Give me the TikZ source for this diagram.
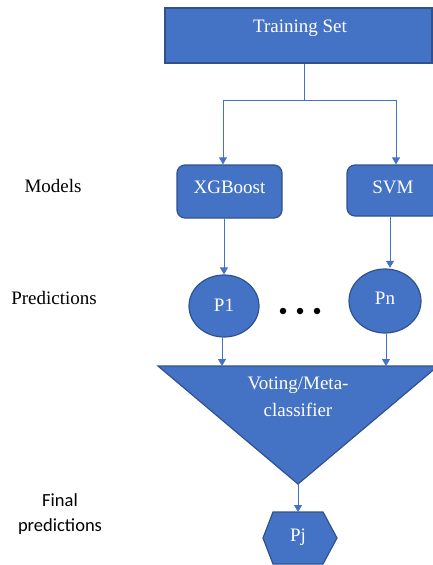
\documentclass[tikz,border=0pt]{standalone}
\usepackage{fontspec}
\setmainfont{Liberation Serif}
\newfontfamily\calfont{Carlito}
\usetikzlibrary{arrows.meta,shapes.geometric}
\definecolor{boxfill}{HTML}{4472C4}
\definecolor{boxedge}{HTML}{2F528F}
\definecolor{linec}{HTML}{4472C4}
\begin{document}
\begin{tikzpicture}[x=1pt,y=-1pt,
  shapebox/.style={fill=boxfill,draw=boxedge,line width=1.2pt},
  lbl/.style={text=white,font=\fontsize{19}{23}\selectfont,inner sep=0pt},
  side/.style={font=\fontsize{19}{23}\selectfont,text=black,inner sep=0pt},
  fside/.style={font=\calfont\fontsize{18.5}{22}\selectfont,text=black,inner sep=0pt},
  conn/.style={draw=linec,line width=0.8pt},
  arr/.style={conn,-{Triangle[length=7pt,width=8pt]}},
  dotc/.style={circle,fill=black,inner sep=0pt,minimum size=6.5pt}]
\useasboundingbox (0,0) rectangle (433,565);
% Training set
\node[shapebox,rectangle,minimum width=267pt,minimum height=55pt,inner sep=0pt] (train) at (298.5,35.5) {};
\node[lbl] (traintxt) at (300,28) {Training Set};
% split
\coordinate (split) at (304,100);
\coordinate (splitL) at (223,100);
\coordinate (splitR) at (396,100);
\draw[conn] (train.south -| split) -- (split);
\draw[conn] (splitL) -- (splitR);
% models
\node[shapebox,rectangle,rounded corners=8pt,minimum width=105pt,minimum height=53pt,inner sep=0pt] (xgb) at (229.5,191.5) {};
\node[lbl] (xgbtxt) at (229.5,187) {XGBoost};
\node[shapebox,rectangle,rounded corners=8pt,minimum width=93pt,minimum height=51pt,inner sep=0pt] (svm) at (393.5,190.5) {};
\node[lbl] (svmtxt) at (393,187) {SVM};
\draw[arr] (splitL) -- (splitL |- xgb.north);
\draw[arr] (splitR) -- (splitR |- svm.north);
% predictions
\node[shapebox,ellipse,minimum width=70pt,minimum height=62pt,inner sep=0pt] (p1) at (224,306) {};
\node[lbl] (p1txt) at (224,305) {P1};
\node[shapebox,ellipse,minimum width=72pt,minimum height=64pt,inner sep=0pt] (pn) at (385,301) {};
\node[lbl] (pntxt) at (385,298) {Pn};
\coordinate (svmdown) at (390,0);
\draw[arr] (xgb.south -| p1.north) -- (p1.north);
\draw[arr] (svm.south -| svmdown) -- ([yshift=0.6pt]pn.north -| svmdown);
\node[dotc] (d1) at (283,311) {};
\node[dotc] (d2) at (300,311) {};
\node[dotc] (d3) at (317,311) {};
% triangle
\coordinate (tl) at (158,366);
\coordinate (tr) at (438,366);
\coordinate (apex) at (298,484);
\draw[shapebox,line join=miter] (tl) -- (tr) -- (apex) -- cycle;
\node[lbl] (vote1) at (298,385) {Voting/Meta-};
\node[lbl] (vote2) at (298,410) {classifier};
\coordinate (p1in) at (222,366);
\coordinate (pnin) at (386,366);
\draw[arr] (p1.south -| p1in) -- (p1in);
\draw[arr] (pn.south -| pnin) -- (pnin);
% hexagon
\coordinate (h1) at (273,512);
\coordinate (h2) at (323,512);
\coordinate (h3) at (337,538);
\coordinate (h4) at (323,564);
\coordinate (h5) at (273,564);
\coordinate (h6) at (263,538);
\coordinate (htop) at (298,512);
\draw[shapebox] (h1) -- (h2) -- (h3) -- (h4) -- (h5) -- (h6) -- cycle;
\node[lbl] (pjtxt) at (298,537) {Pj};
\draw[arr] (apex) -- (htop);
% side labels
\node[side] (models) at (53,186) {Models};
\node[side] (preds) at (54,298) {Predictions};
\node[fside] (final1) at (60,500) {Final};
\node[fside] (final2) at (60,527) {predictions};
\end{tikzpicture}
\end{document}
